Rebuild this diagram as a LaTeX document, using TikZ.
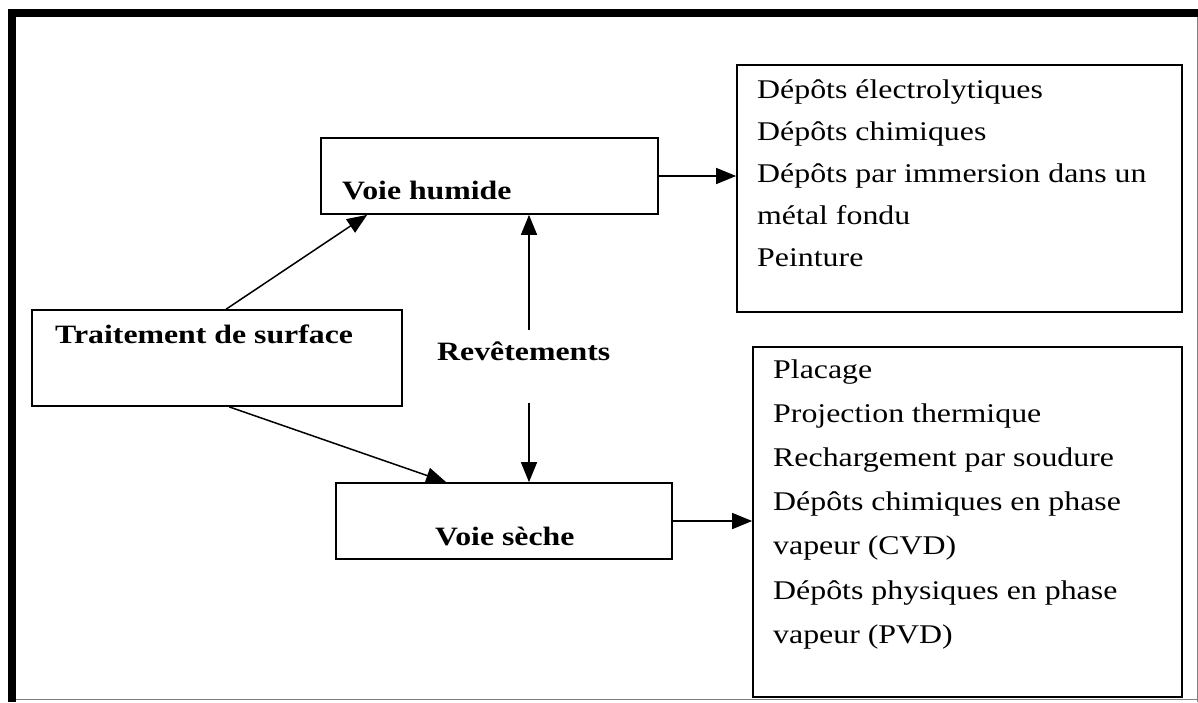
\documentclass[tikz,border=0pt]{standalone}
\usepackage{fontspec}
\usetikzlibrary{arrows.meta}
\newfontfamily\regfont{Liberation Serif}[FakeStretch=1.18]
\newfontfamily\boldfnt{Liberation Serif}[FakeStretch=1.2]
\begin{document}
\begin{tikzpicture}[x=1pt,y=-1pt,
  box/.style={draw=black,line width=1.7pt,rectangle,inner sep=0pt},
  arr/.style={line width=1.5pt,-{Triangle[length=20pt,width=16pt]}},
  btxt/.style={anchor=base west,inner sep=0pt,font=\boldfnt\bfseries\fontsize{26.5pt}{30pt}\selectfont},
  rtxt/.style={anchor=base west,inner sep=0pt,font=\regfont\fontsize{27pt}{30pt}\selectfont}]
\useasboundingbox (0,0) rectangle (1198,702);
% frame
\fill[black] (8,9) rectangle (1198,17);
\fill[black] (8,9) rectangle (16,702);
\draw[gray,line width=1pt] (1197,17) -- (1197,702);
\draw[gray,line width=1pt] (16,699) -- (1198,699);
% boxes
\node[box,minimum width=370pt,minimum height=96pt] (ts) at (217,358) {};
\node[box,minimum width=337pt,minimum height=76pt] (vh) at (489.5,176) {};
\node[box,minimum width=336pt,minimum height=76pt] (vs) at (504,521) {};
\node[box,minimum width=445pt,minimum height=247pt] (b1) at (959.5,188.5) {};
\node[box,minimum width=429pt,minimum height=350pt] (b2) at (967.5,522) {};
% box texts
\node[btxt] (tst) at (55,343) {Traitement de surface};
\node[btxt] (vht) at (342,199) {Voie humide};
\node[btxt] (vst) at (435,545) {Voie sèche};
\node[btxt] (rev) at (437,360) {Revêtements};
\foreach \t [count=\i from 0] in {Dépôts électrolytiques,Dépôts chimiques,Dépôts par immersion dans un,métal fondu,Peinture}
  \node[rtxt] (a\i) at (757,98+42*\i) {\t};
\foreach \t [count=\i from 0] in {Placage,Projection thermique,Rechargement par soudure,Dépôts chimiques en phase,vapeur (CVD),Dépôts physiques en phase,vapeur (PVD)}
  \node[rtxt] (p\i) at (773,378+44.2*\i) {\t};
% connectors
\draw[arr] ([xshift=195pt]ts.north west) -- ([xshift=47pt]vh.south west);
\draw[arr] ([xshift=198pt]ts.south west) -- ([xshift=111pt]vs.north west);
\draw[arr] (vh.east) -- (vh.east -| b1.west);
\draw[arr] (vs.east) -- (vs.east -| b2.west);
\coordinate (ra) at (529,330);
\coordinate (rb) at (529,403);
\draw[arr] (ra) -- (ra |- vh.south);
\draw[arr] (rb) -- (rb |- vs.north);
\end{tikzpicture}
\end{document}
